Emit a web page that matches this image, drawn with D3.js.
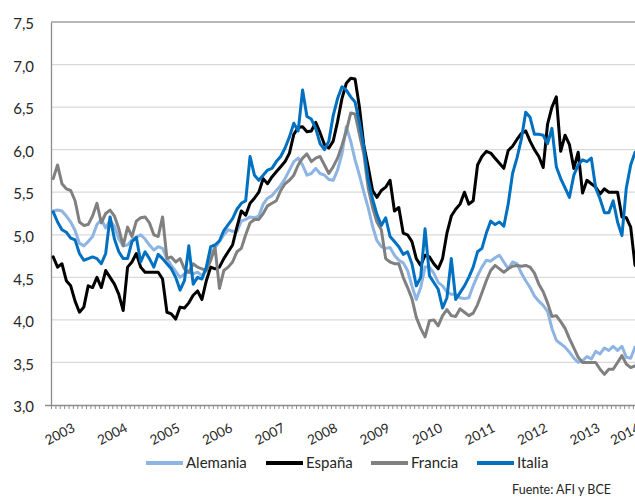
<!DOCTYPE html>
<html>
<head>
<meta charset="utf-8">
<script src="https://cdn.jsdelivr.net/npm/d3@7"></script>
<style>
  html, body { margin: 0; padding: 0; background: #fff; }
  svg { display: block; font-family: Lato, "Open Sans", sans-serif; }
</style>
</head>
<body>
<div id="chart"></div>
<script>
// monthly values, Jan 2003 .. Feb 2014 (one row per year)
const alemania = [
  5.28, 5.29, 5.28, 5.22, 5.15, 5.05, 4.90, 4.87, 4.92, 4.98, 5.12, 5.18,
  5.08, 5.17, 5.10, 4.95, 4.87, 4.88, 4.94, 4.97, 5.00, 4.95, 4.88, 4.82,
  4.86, 4.84, 4.72, 4.64, 4.57, 4.50, 4.54, 4.56, 4.54, 4.56, 4.52, 4.58,
  4.78, 4.85, 4.92, 5.00, 5.06, 5.04, 5.04, 5.16, 5.18, 5.21, 5.20, 5.22,
  5.36, 5.43, 5.46, 5.52, 5.58, 5.66, 5.76, 5.86, 5.90, 5.82, 5.70, 5.72,
  5.78, 5.72, 5.70, 5.65, 5.64, 5.76, 5.95, 6.27, 6.10, 5.88, 5.70, 5.50,
  5.32, 5.10, 4.93, 4.86, 4.84, 4.85, 4.76, 4.70, 4.67, 4.58, 4.40, 4.24,
  4.38, 4.62, 4.62, 4.55, 4.44, 4.40, 4.33, 4.30, 4.30, 4.26, 4.25, 4.26,
  4.40, 4.52, 4.62, 4.70, 4.69, 4.73, 4.76, 4.68, 4.60, 4.68, 4.66, 4.55,
  4.46, 4.38, 4.28, 4.22, 4.17, 4.10, 3.90, 3.76, 3.72, 3.68, 3.62, 3.55,
  3.50, 3.52, 3.57, 3.54, 3.63, 3.60, 3.67, 3.64, 3.69, 3.64, 3.69, 3.56,
  3.55, 3.68,
];
const espana = [
  4.74, 4.62, 4.66, 4.46, 4.40, 4.22, 4.09, 4.15, 4.40, 4.38, 4.50, 4.38,
  4.58, 4.50, 4.42, 4.30, 4.11, 4.62, 4.68, 4.78, 4.62, 4.56, 4.56, 4.56,
  4.56, 4.48, 4.09, 4.07, 4.01, 4.15, 4.14, 4.20, 4.29, 4.34, 4.24, 4.46,
  4.62, 4.60, 4.62, 4.72, 4.80, 4.88, 5.09, 5.28, 5.23, 5.37, 5.43, 5.50,
  5.66, 5.60, 5.68, 5.74, 5.80, 5.86, 5.96, 6.18, 6.26, 6.27, 6.21, 6.22,
  6.32, 6.20, 6.06, 6.02, 6.10, 6.33, 6.60, 6.78, 6.84, 6.83, 6.50, 6.05,
  5.80, 5.52, 5.44, 5.52, 5.56, 5.64, 5.28, 5.32, 5.02, 5.00, 4.92, 4.72,
  4.64, 4.76, 4.74, 4.66, 4.60, 4.72, 5.02, 5.22, 5.30, 5.36, 5.50, 5.36,
  5.40, 5.82, 5.92, 5.98, 5.96, 5.90, 5.84, 5.78, 5.99, 6.04, 6.12, 6.19,
  6.22, 6.10, 6.00, 5.92, 5.79, 6.30, 6.50, 6.62, 5.98, 6.17, 6.06, 5.78,
  5.97, 5.49, 5.64, 5.60, 5.56, 5.48, 5.54, 5.50, 5.50, 5.50, 5.21, 5.20,
  5.09, 4.64,
];
const francia = [
  5.66, 5.82, 5.60, 5.54, 5.52, 5.40, 5.15, 5.11, 5.12, 5.22, 5.37, 5.14,
  5.25, 5.29, 5.22, 5.07, 4.87, 5.09, 4.98, 5.16, 5.20, 5.21, 5.14, 5.00,
  4.98, 5.21, 4.72, 4.74, 4.68, 4.72, 4.60, 4.56, 4.66, 4.62, 4.60, 4.58,
  4.70, 4.85, 4.37, 4.58, 4.62, 4.68, 4.80, 4.84, 5.00, 5.14, 5.18, 5.18,
  5.25, 5.34, 5.37, 5.40, 5.52, 5.60, 5.64, 5.70, 5.82, 5.90, 5.95, 5.86,
  5.90, 5.92, 5.82, 5.72, 5.80, 5.90, 6.05, 6.22, 6.43, 6.42, 6.18, 5.95,
  5.55, 5.32, 5.15, 5.06, 4.72, 4.68, 4.66, 4.66, 4.50, 4.38, 4.25, 4.03,
  3.90, 3.80, 3.99, 4.00, 3.93, 4.05, 4.12, 4.05, 4.04, 4.13, 4.09, 4.05,
  4.08, 4.18, 4.32, 4.46, 4.58, 4.64, 4.60, 4.56, 4.60, 4.63, 4.64, 4.63,
  4.64, 4.62, 4.55, 4.42, 4.33, 4.20, 4.04, 4.05, 3.98, 3.90, 3.78, 3.67,
  3.56, 3.50, 3.50, 3.50, 3.50, 3.42, 3.36, 3.42, 3.42, 3.50, 3.58, 3.48,
  3.44, 3.46,
];
const italia = [
  5.27, 5.15, 5.06, 5.03, 4.96, 4.94, 4.78, 4.70, 4.72, 4.74, 4.72, 4.66,
  4.78, 5.21, 4.95, 4.80, 4.72, 4.72, 4.92, 4.97, 4.68, 4.80, 4.72, 4.62,
  4.77, 4.72, 4.66, 4.60, 4.50, 4.35, 4.46, 4.87, 4.42, 4.50, 4.48, 4.62,
  4.86, 4.88, 4.93, 5.05, 5.12, 5.19, 5.30, 5.37, 5.40, 5.92, 5.70, 5.64,
  5.70, 5.76, 5.78, 5.86, 5.92, 6.02, 6.15, 6.31, 6.22, 6.70, 6.39, 6.36,
  6.25, 6.07, 6.00, 6.10, 6.40, 6.60, 6.74, 6.70, 6.62, 6.56, 6.32, 6.03,
  5.65, 5.42, 5.24, 5.11, 5.20, 4.98, 4.92, 4.86, 4.77, 4.80, 4.66, 4.40,
  4.50, 5.07, 4.52, 4.44, 4.36, 4.14, 4.26, 4.72, 4.24, 4.32, 4.40, 4.50,
  4.62, 4.80, 4.84, 5.02, 5.16, 5.12, 5.15, 5.10, 5.36, 5.72, 5.90, 6.12,
  6.44, 6.38, 6.18, 6.18, 6.17, 6.07, 6.25, 5.80, 5.66, 5.55, 5.44, 5.70,
  5.82, 5.88, 5.86, 5.90, 5.55, 5.42, 5.26, 5.26, 5.40, 5.15, 4.99, 5.55,
  5.82, 5.97,
];

const years = ["2003", "2004", "2005", "2006", "2007", "2008", "2009",
               "2010", "2011", "2012", "2013", "2014"];
const yTicks = [3.0, 3.5, 4.0, 4.5, 5.0, 5.5, 6.0, 6.5, 7.0, 7.5];

const series = [
  { name: "Alemania", values: alemania, color: "#8db4e2" },
  { name: "España", values: espana, color: "#000000" },
  { name: "Francia", values: francia, color: "#808080" },
  { name: "Italia", values: italia, color: "#0070c0" },
];

const W = 635;
const H = 497;
const plotLeft = 51, plotTop = 22, plotBottom = 405;
const monthW = 4.375;
const nMonths = alemania.length;

const x = d3.scaleLinear().domain([0, nMonths]).range([plotLeft, plotLeft + nMonths * monthW]);
const y = d3.scaleLinear().domain([3, 7.5]).range([plotBottom, plotTop]);

const svg = d3.select("#chart").append("svg")
  .attr("width", W).attr("height", H);

// horizontal gridlines
svg.append("g")
  .selectAll("line")
  .data(yTicks.slice(1))
  .join("line")
  .attr("x1", plotLeft).attr("x2", W)
  .attr("y1", (d) => y(d)).attr("y2", (d) => y(d))
  .attr("stroke", (d) => (d === 7.5 ? "#a0a0a0" : "#d9d9d9"))
  .attr("stroke-width", 1.3);

// y axis
const yAxis = svg.append("g")
  .attr("transform", `translate(${plotLeft},0)`)
  .call(d3.axisLeft(y).tickValues(yTicks).tickSize(0).tickPadding(17)
    .tickFormat((d) => d.toFixed(1).replace(".", ",")));
yAxis.select(".domain").attr("stroke", "#8c8c8c").attr("stroke-width", 1.3);
yAxis.selectAll("text")
  .attr("font-family", "Lato, sans-serif")
  .attr("font-size", 15).attr("fill", "#262626").attr("dy", "0.45em");

// x axis: monthly ticks
const xAxis = svg.append("g")
  .attr("transform", `translate(0,${plotBottom})`)
  .call(d3.axisBottom(x).tickValues(d3.range(0, nMonths + 1)).tickSize(4)
    .tickSizeOuter(0).tickFormat(""));
xAxis.select(".domain").attr("stroke", "#8c8c8c").attr("stroke-width", 1.3)
  .attr("d", `M${plotLeft - 6},0.5H${x(nMonths)}`);
xAxis.selectAll(".tick line").attr("stroke", "#8c8c8c");

// year labels, rotated (the last one is pulled in, as the spreadsheet did)
svg.append("g")
  .selectAll("text")
  .data(years)
  .join("text")
  .attr("transform", (d, i) => {
    const shift = i === years.length - 1 ? -12 : 0;
    return `translate(${x(i * 12) + 25 + shift},${plotBottom + 26}) rotate(-27)`;
  })
  .attr("text-anchor", "end")
  .attr("font-size", 13.5)
  .attr("fill", "#262626")
  .text((d) => d);

// lines
const line = d3.line()
  .x((d, i) => x(i + 0.5))
  .y((d) => y(d));

svg.append("g")
  .selectAll("path")
  .data(series)
  .join("path")
  .attr("d", (s) => line(s.values))
  .attr("fill", "none")
  .attr("stroke", (s) => s.color)
  .attr("stroke-width", 3)
  .attr("stroke-linejoin", "round")
  .attr("stroke-linecap", "round");

// legend
const legendX = [146, 266, 371, 477];
const legend = svg.append("g")
  .selectAll("g")
  .data(series)
  .join("g")
  .attr("transform", (s, i) => `translate(${legendX[i]},463)`);
legend.append("line")
  .attr("x1", 0).attr("x2", 37)
  .attr("stroke", (s) => s.color)
  .attr("stroke-width", 4);
legend.append("text")
  .attr("x", 40).attr("dy", "0.36em")
  .attr("font-size", 15)
  .attr("fill", "#262626")
  .text((s) => s.name);

// source note
svg.append("text")
  .attr("x", 611).attr("y", 494)
  .attr("text-anchor", "end")
  .attr("font-size", 12.5)
  .attr("fill", "#262626")
  .text("Fuente: AFI y BCE");
</script>
</body>
</html>
